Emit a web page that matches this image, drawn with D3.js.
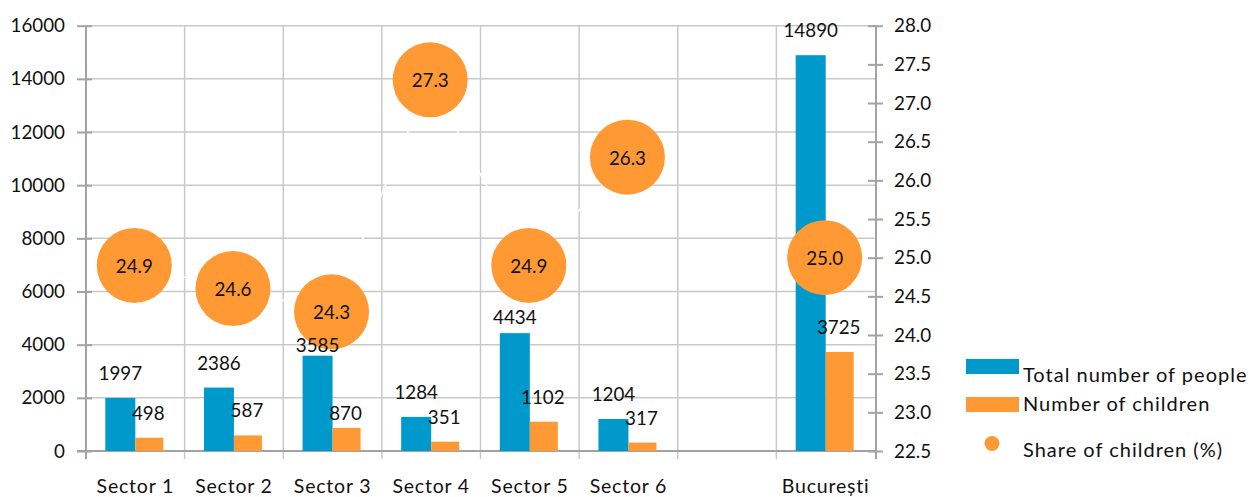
<!DOCTYPE html>
<html>
<head>
<meta charset="utf-8">
<script src="https://cdn.jsdelivr.net/npm/d3@7"></script>
<style>
  html, body { margin: 0; padding: 0; background: #fff; }
  svg { display: block; font-family: Lato, "Open Sans", sans-serif; }
</style>
</head>
<body>
<svg id="chart" width="1256" height="497"></svg>
<script>
// Categories (the empty one is a spacer column before the city total)
const categories = ["Sector 1", "Sector 2", "Sector 3", "Sector 4", "Sector 5", "Sector 6", "", "București"];
const totalPeople = [1997, 2386, 3585, 1284, 4434, 1204, null, 14890];
const children = [498, 587, 870, 351, 1102, 317, null, 3725];
const shareChildren = [24.9, 24.6, 24.3, 27.3, 24.9, 26.3, null, 25.0];
const leftTicks = [0, 2000, 4000, 6000, 8000, 10000, 12000, 14000, 16000];
const rightTicks = [22.5, 23.0, 23.5, 24.0, 24.5, 25.0, 25.5, 26.0, 26.5, 27.0, 27.5, 28.0];
const seriesNames = ["Total number of people", "Number of children", "Share of children (%)"];

const BLUE = "#0099cc";
const ORANGE = "#ff9933";
const GRID = "#c9c9c9";
const AXIS = "#a3a3a3";
const TEXT = "#111";
const FS = 18.8;

const svg = d3.select("#chart");
const plotLeft = 86, plotRight = 875, plotTop = 25.7, plotBottom = 451;

const x = d3.scaleBand().domain(categories).range([plotLeft, plotRight]).padding(0);
const yL = d3.scaleLinear().domain([0, 16000]).range([plotBottom, plotTop]);
const yR = d3.scaleLinear().domain([22.5, 28]).range([plotBottom, plotTop]);
const center = c => x(c) + x.bandwidth() / 2;

// Horizontal gridlines
svg.append("g").selectAll("line").data(leftTicks.filter(t => t > 0)).join("line")
  .attr("x1", plotLeft).attr("x2", plotRight + 1)
  .attr("y1", d => yL(d)).attr("y2", d => yL(d))
  .attr("stroke", GRID).attr("stroke-width", 1.5);

// Vertical gridlines at category boundaries, extending below as tick marks
const boundaries = categories.slice(1).map(c => x(c));
svg.append("g").selectAll("line").data(boundaries).join("line")
  .attr("x1", d => d).attr("x2", d => d)
  .attr("y1", plotTop).attr("y2", plotBottom + 8)
  .attr("stroke", GRID).attr("stroke-width", 1.5);

// Baseline and outer axis lines
svg.append("line").attr("x1", plotLeft - 9).attr("x2", plotRight + 1)
  .attr("y1", plotBottom).attr("y2", plotBottom)
  .attr("stroke", AXIS).attr("stroke-width", 2);
svg.append("line").attr("x1", plotLeft).attr("x2", plotLeft)
  .attr("y1", plotTop).attr("y2", plotBottom + 8)
  .attr("stroke", AXIS).attr("stroke-width", 2);
svg.append("line").attr("x1", plotRight + 1).attr("x2", plotRight + 1)
  .attr("y1", plotTop).attr("y2", plotBottom + 8)
  .attr("stroke", AXIS).attr("stroke-width", 2);

// Left axis
const gL = svg.append("g").attr("transform", `translate(${plotLeft + 6},0)`)
  .call(d3.axisLeft(yL).tickValues(leftTicks).tickSize(15).tickPadding(12).tickFormat(d3.format("d")));
gL.select(".domain").remove();
gL.selectAll(".tick line").attr("stroke", AXIS).attr("stroke-width", 2);
gL.selectAll(".tick text").attr("fill", TEXT).style("font-size", FS + "px").style("font-family", "Lato");

// Right axis
const gR = svg.append("g").attr("transform", `translate(${plotRight - 7},0)`)
  .call(d3.axisRight(yR).tickValues(rightTicks).tickSize(15).tickPadding(11).tickFormat(d3.format(".1f")));
gR.select(".domain").remove();
gR.selectAll(".tick line").attr("stroke", AXIS).attr("stroke-width", 2);
gR.selectAll(".tick text").attr("fill", TEXT).style("font-size", FS + "px").style("font-family", "Lato");

// Category axis labels
const gX = svg.append("g").attr("transform", `translate(0,${plotBottom})`)
  .call(d3.axisBottom(x).tickSize(0));
gX.select(".domain").remove();
gX.selectAll(".tick text").attr("y", 42).attr("dy", 0).attr("fill", TEXT)
  .style("font-size", "19.5px").style("font-family", "Lato").style("letter-spacing", "0.8px");

// Bars
const rows = categories.map((c, i) => ({ c, i, total: totalPeople[i], kids: children[i], share: shareChildren[i] }));
const barRows = rows.filter(r => r.total != null);

svg.append("g").selectAll("rect").data(barRows).join("rect")
  .attr("x", r => center(r.c) - 30).attr("width", 30)
  .attr("y", r => yL(r.total)).attr("height", r => yL(0) - yL(r.total))
  .attr("fill", BLUE);
svg.append("g").selectAll("rect").data(barRows).join("rect")
  .attr("x", r => center(r.c)).attr("width", 28)
  .attr("y", r => yL(r.kids)).attr("height", r => yL(0) - yL(r.kids))
  .attr("fill", ORANGE);

// White connector line of the share series (breaks at the spacer column)
const line = d3.line()
  .defined(r => r.share != null)
  .x(r => center(r.c) - 1)
  .y(r => yR(r.share));
svg.append("path").datum(rows).attr("d", line)
  .attr("fill", "none").attr("stroke", "#fff").attr("stroke-width", 1.5);

// Share circles with labels
const shareRows = rows.filter(r => r.share != null);
svg.append("g").selectAll("circle").data(shareRows).join("circle")
  .attr("cx", r => center(r.c) - 1).attr("cy", r => yR(r.share)).attr("r", 37.5)
  .attr("fill", ORANGE);
svg.append("g").selectAll("text").data(shareRows).join("text")
  .attr("x", r => center(r.c) - 1).attr("y", r => yR(r.share))
  .attr("text-anchor", "middle").attr("dominant-baseline", "central")
  .attr("fill", TEXT).style("font-size", FS + "px")
  .text(r => d3.format(".1f")(r.share));

// Value labels above the bars, drawn on top (a few sit lower, next to the circles)
const liftTotal = { 2: 4, 4: 9 };
const liftKids = { 2: 8 };
svg.append("g").selectAll("text").data(barRows).join("text")
  .attr("x", r => center(r.c) - 15)
  .attr("y", r => yL(r.total) - (liftTotal[r.i] ?? 18))
  .attr("text-anchor", "middle").attr("fill", TEXT).style("font-size", FS + "px")
  .text(r => r.total);
svg.append("g").selectAll("text").data(barRows).join("text")
  .attr("x", r => center(r.c) + 13)
  .attr("y", r => yL(r.kids) - (liftKids[r.i] ?? 18))
  .attr("text-anchor", "middle").attr("fill", TEXT).style("font-size", FS + "px")
  .text(r => r.kids);

// Legend
const legend = svg.append("g");
legend.append("rect").attr("x", 966).attr("y", 359).attr("width", 53).attr("height", 15).attr("fill", BLUE);
legend.append("rect").attr("x", 966).attr("y", 397).attr("width", 53).attr("height", 15).attr("fill", ORANGE);
legend.append("circle").attr("cx", 992).attr("cy", 443.5).attr("r", 7.5).attr("fill", ORANGE);
legend.selectAll("text").data(seriesNames).join("text")
  .attr("x", 1023).attr("y", (d, i) => [381.5, 410.5, 456.5][i])
  .attr("fill", TEXT).style("font-size", "20px").style("letter-spacing", "1px")
  .text(d => d);
</script>
</body>
</html>
